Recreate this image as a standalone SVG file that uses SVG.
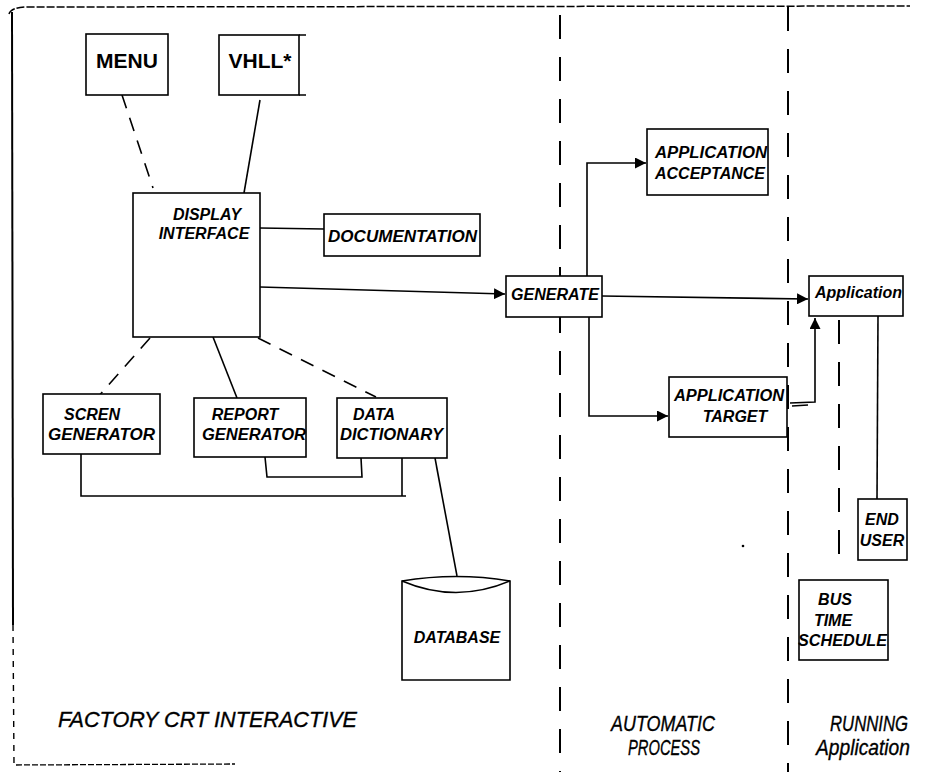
<svg xmlns="http://www.w3.org/2000/svg" width="944" height="772" viewBox="0 0 944 772">
  <defs>
    <style>
      .box { fill: #fff; stroke: #000; stroke-width: 1.6; }
      .ln { fill: none; stroke: #000; stroke-width: 1.6; }
      .dash { fill: none; stroke: #000; stroke-width: 1.6; stroke-dasharray: 14 10; }
      .div { fill: none; stroke: #000; stroke-width: 2; stroke-dasharray: 24 18; }
      .lbl { font-family: "Liberation Sans", Arial, sans-serif; font-weight: bold; font-style: italic; font-size: 16px; fill: #000; }
      .up { font-family: "Liberation Sans", Arial, sans-serif; font-weight: bold; font-size: 21px; fill: #000; }
      .cap { font-family: "Liberation Sans", Arial, sans-serif; font-style: italic; font-size: 22px; fill: #000; stroke: #000; stroke-width: 0.35; }
    </style>
    <marker id="arr" viewBox="0 0 10 10" refX="10" refY="5" markerWidth="11" markerHeight="11" markerUnits="userSpaceOnUse" orient="auto">
      <path d="M0,0 L10,5 L0,10 Z" fill="#000"/>
    </marker>
  </defs>

  <!-- outer frame and column dividers -->
  <g id="frame">
    <path d="M9 14 Q11 7 28 7 L910 6" fill="none" stroke="#000" stroke-width="1.5" stroke-dasharray="8 2"/>
    <path d="M12 12 L13 625" fill="none" stroke="#000" stroke-width="2"/>
    <path d="M13 625 L14 765" fill="none" stroke="#000" stroke-width="1.4" stroke-dasharray="6 6"/>
    <path d="M16 765 L235 764" fill="none" stroke="#000" stroke-width="1.3" stroke-dasharray="6 2"/>
    <path class="div" d="M560 15 L560 772"/>
    <path class="div" d="M788 7 L788 772"/>
    <circle cx="743" cy="546" r="1.3" fill="#000"/>
  </g>

  <!-- connectors -->
  <g id="connectors">
    <path class="dash" d="M122 95 L153 188"/>
    <path class="ln" d="M260 100 L244 193"/>
    <path class="ln" d="M260 228 L324 229"/>
    <path class="ln" d="M260 287 L505 294" marker-end="url(#arr)"/>
    <path class="ln" d="M602 296 L808 299" marker-end="url(#arr)"/>
    <path class="ln" d="M587 276 L587 163 L646 163" marker-end="url(#arr)"/>
    <path class="ln" d="M589 317 L589 416 L668 416" marker-end="url(#arr)"/>
    <path class="ln" d="M790 403 L815 402 L815 318" marker-end="url(#arr)"/>
    <path class="ln" d="M792 406 L808 405"/>
    <path class="ln" d="M878 316 L877 499"/>
    <path class="div" d="M839 320 L839 568"/>
    <path class="dash" d="M150 338 L97 398"/>
    <path class="ln" d="M213 337 L237 398"/>
    <path class="dash" d="M258 338 L376 397"/>
    <path class="ln" d="M265 457 L267 477 L362 477 L361 458"/>
    <path class="ln" d="M81 454 L81 496 L406 496"/>
    <path class="ln" d="M402 496 L402 458"/>
    <path class="ln" d="M435 458 L457 576"/>
  </g>

  <g id="menu">
    <rect class="box" x="86" y="34" width="82" height="61"/>
    <text class="up" x="127" y="68" text-anchor="middle">MENU</text>
  </g>

  <g id="vhll">
    <rect class="box" x="219" y="35" width="80" height="60"/>
    <path class="ln" d="M299 35 L306 35 M299 95 L306 95"/>
    <text class="up" x="260" y="68" text-anchor="middle">VHLL*</text>
  </g>

  <g id="display-interface">
    <rect class="box" x="133" y="193" width="127" height="144"/>
    <text class="lbl" x="207" y="220" text-anchor="middle">DISPLAY</text>
    <text class="lbl" x="204" y="239" text-anchor="middle">INTERFACE</text>
  </g>

  <g id="documentation">
    <rect class="box" x="324" y="214" width="156" height="42"/>
    <text class="lbl" x="328" y="242" textLength="149" lengthAdjust="spacingAndGlyphs">DOCUMENTATION</text>
  </g>

  <g id="generate">
    <rect class="box" x="506" y="276" width="96" height="41"/>
    <text class="lbl" x="511" y="300" textLength="88" lengthAdjust="spacingAndGlyphs">GENERATE</text>
  </g>

  <g id="application-acceptance">
    <rect class="box" x="647" y="129" width="121" height="66"/>
    <text class="lbl" x="655" y="158" textLength="112" lengthAdjust="spacingAndGlyphs">APPLICATION</text>
    <text class="lbl" x="655" y="179" textLength="110" lengthAdjust="spacingAndGlyphs">ACCEPTANCE</text>
  </g>

  <g id="application-target">
    <rect class="box" x="669" y="377" width="118" height="60"/>
    <text class="lbl" x="674" y="401" textLength="110" lengthAdjust="spacingAndGlyphs">APPLICATION</text>
    <text class="lbl" x="735" y="422" text-anchor="middle">TARGET</text>
  </g>

  <g id="application">
    <rect class="box" x="809" y="276" width="94" height="40"/>
    <text class="lbl" x="815" y="298" textLength="87" lengthAdjust="spacingAndGlyphs">Application</text>
  </g>

  <g id="end-user">
    <rect class="box" x="858" y="499" width="49" height="61"/>
    <text class="lbl" x="882" y="525" text-anchor="middle" font-size="15">END</text>
    <text class="lbl" x="882" y="546" text-anchor="middle" font-size="15">USER</text>
  </g>

  <g id="bus-time-schedule">
    <rect class="box" x="799" y="580" width="89" height="80"/>
    <text class="lbl" x="835" y="605" text-anchor="middle" font-size="15">BUS</text>
    <text class="lbl" x="833" y="626" text-anchor="middle" font-size="15">TIME</text>
    <text class="lbl" x="798" y="646" font-size="15" textLength="89" lengthAdjust="spacingAndGlyphs">SCHEDULE</text>
  </g>

  <g id="screen-generator">
    <rect class="box" x="43" y="394" width="117" height="60"/>
    <text class="lbl" x="92" y="420" text-anchor="middle">SCREN</text>
    <text class="lbl" x="48" y="440" textLength="107" lengthAdjust="spacingAndGlyphs">GENERATOR</text>
  </g>

  <g id="report-generator">
    <rect class="box" x="194" y="398" width="112" height="59"/>
    <text class="lbl" x="245" y="420" text-anchor="middle">REPORT</text>
    <text class="lbl" x="202" y="440" textLength="104" lengthAdjust="spacingAndGlyphs">GENERATOR</text>
  </g>

  <g id="data-dictionary">
    <rect class="box" x="337" y="398" width="110" height="60"/>
    <text class="lbl" x="353" y="420">DATA</text>
    <text class="lbl" x="340" y="440" textLength="103" lengthAdjust="spacingAndGlyphs">DICTIONARY</text>
  </g>

  <g id="database">
    <path class="box" d="M402 581 L402 680 L510 680 L510 581 Q456 572 402 581 Z"/>
    <path class="ln" d="M402 581 Q456 604 510 581"/>
    <text class="lbl" x="457" y="643" text-anchor="middle">DATABASE</text>
  </g>

  <!-- column captions -->
  <g id="captions">
    <text class="cap" x="58" y="727" textLength="299" lengthAdjust="spacingAndGlyphs">FACTORY CRT INTERACTIVE</text>
    <text class="cap" x="611" y="731" textLength="104" lengthAdjust="spacingAndGlyphs">AUTOMATIC</text>
    <text class="cap" x="628" y="755" textLength="72" lengthAdjust="spacingAndGlyphs">PROCESS</text>
    <text class="cap" x="830" y="731" textLength="78" lengthAdjust="spacingAndGlyphs">RUNNING</text>
    <text class="cap" x="816" y="755" textLength="94" lengthAdjust="spacingAndGlyphs">Application</text>
  </g>
</svg>
